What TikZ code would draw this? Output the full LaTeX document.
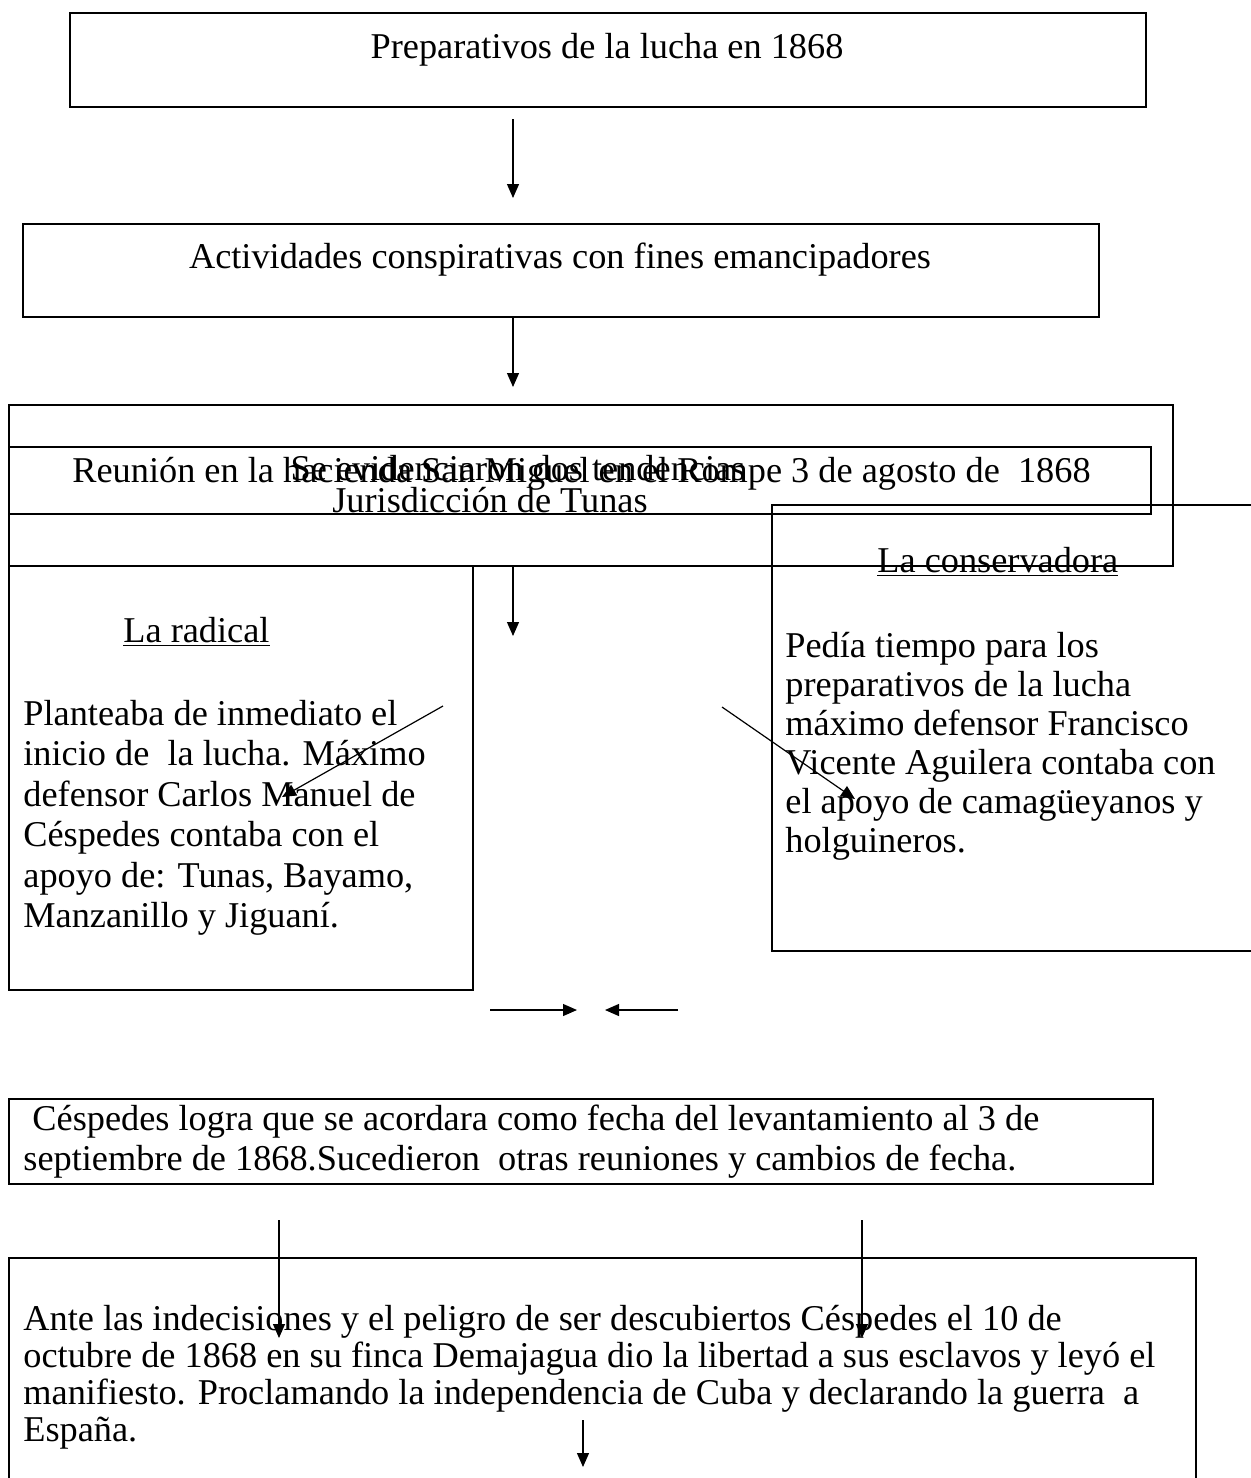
\documentclass[tikz,border=0pt]{standalone}
\usepackage{fontspec}
\setmainfont{Liberation Serif}
\usetikzlibrary{arrows.meta}

\begin{document}
\begin{tikzpicture}[x=0.5pt, y=-0.5pt,
    caja/.style={draw, line width=1.1pt, inner sep=0, anchor=north west},
    flecha/.style={line width=0.6pt, -{Triangle[length=7pt, width=6pt]}},
    texto/.style={inner sep=0, font=\fontsize{18.15pt}{20.25pt}\selectfont},
    parrafo/.style={texto, anchor=north west, align=left}]
      \useasboundingbox (0,0) rectangle (1250,1478);
      % cajas
      \node[caja, minimum width=538pt, minimum height=47pt] (preparativos) at (69,12) {};
      \node[caja, minimum width=538pt, minimum height=46.5pt] (actividades) at (22,223) {};
      \node[caja, minimum width=582pt, minimum height=80.5pt] (reunion) at (8,404) {};
      \node[caja, minimum width=571pt, minimum height=33.5pt] (tendencias) at (8,446) {};
      \node[caja, minimum width=232pt, minimum height=212pt] (radical) at (8,565) {};
      \node[caja, line width=0.8pt, minimum width=246pt, minimum height=223pt] (conservadora) at (771,504) {};
      \node[caja, minimum width=572pt, minimum height=42.5pt] (fecha) at (8,1098) {};
      \node[caja, minimum width=593.5pt, minimum height=125pt] (demajagua) at (8,1257) {};
      % textos
      \node[texto, anchor=base] (tprep) at (607,58) {Preparativos de la lucha en 1868};
      \node[texto, anchor=base] (tact) at (560,268) {Actividades conspirativas con fines emancipadores};
      \node[texto, anchor=base west] (treu) at (72,482) {Reunión en la hacienda San Miguel en el Rompe 3 de agosto de \ 1868};
      \node[texto, anchor=base] (tjur) at (490,512) {Jurisdicción de Tunas};
      \node[texto, anchor=base] (tten) at (518,480) {Se evidenciaron dos tendencias};
      \node[texto, anchor=base west] (trad) at (123,642) {\underline{La radical}};
      \node[parrafo] (prad) at (23,696.6) {\strut Planteaba de inmediato el\\inicio de \ la lucha. Máximo\\defensor Carlos Manuel de\\Céspedes contaba con el\\apoyo de: Tunas, Bayamo,\\Manzanillo y Jiguaní.};
      \node[texto, anchor=base west] (tcon) at (877,572) {\underline{La conservadora}};
      \node[parrafo, font=\fontsize{18.15pt}{19.5pt}\selectfont] (pcon) at (785,629.7) {\strut Pedía tiempo para los\\preparativos de la lucha\\máximo defensor Francisco\\Vicente Aguilera contaba con\\el apoyo de camagüeyanos y\\holguineros.};
      \node[parrafo] (pfec) at (23,1101.6) {\strut\ Céspedes logra que se acordara como fecha del levantamiento al 3 de\\septiembre de 1868.Sucedieron \ otras reuniones y cambios de fecha.};
      \node[parrafo, font=\fontsize{18.15pt}{18.5pt}\selectfont] (pdem) at (23,1304.1) {\strut Ante las indecisiones y el peligro de ser descubiertos Céspedes el 10 de\\octubre de 1868 en su finca Demajagua dio la libertad a sus esclavos y leyó el\\manifiesto. Proclamando la independencia de Cuba y declarando la guerra \ a\\España.};
      % flechas
      \coordinate (a1s) at (513,119);
      \coordinate (a1e) at (513,198);
      \coordinate (a2e) at (513,387);
      \coordinate (a3e) at (513,636);
      \coordinate (d1s) at (443,706);
      \coordinate (d1e) at (282,797);
      \coordinate (d2s) at (722,707);
      \coordinate (d2e) at (855,799);
      \coordinate (h1s) at (490,1010);
      \coordinate (h1e) at (577,1010);
      \coordinate (h2s) at (678,1010);
      \coordinate (h2e) at (605,1010);
      \coordinate (v1s) at (279,1220);
      \coordinate (v1e) at (279,1338);
      \coordinate (v2s) at (862,1220);
      \coordinate (v2e) at (862,1338);
      \coordinate (v3s) at (583,1420);
      \coordinate (v3e) at (583,1467);
      \draw[flecha] (a1s) -- (a1e);
      \draw[flecha] (a2e |- actividades.south) -- (a2e);
      \draw[flecha] (a3e |- reunion.south) -- (a3e);
      \draw[flecha] (d1s) -- (d1e);
      \draw[flecha] (d2s) -- (d2e);
      \draw[flecha] (h1s) -- (h1e);
      \draw[flecha] (h2s) -- (h2e);
      \draw[flecha] (v1s) -- (v1e);
      \draw[flecha] (v2s) -- (v2e);
      \draw[flecha] (v3s) -- (v3e);
\end{tikzpicture}
\end{document}
